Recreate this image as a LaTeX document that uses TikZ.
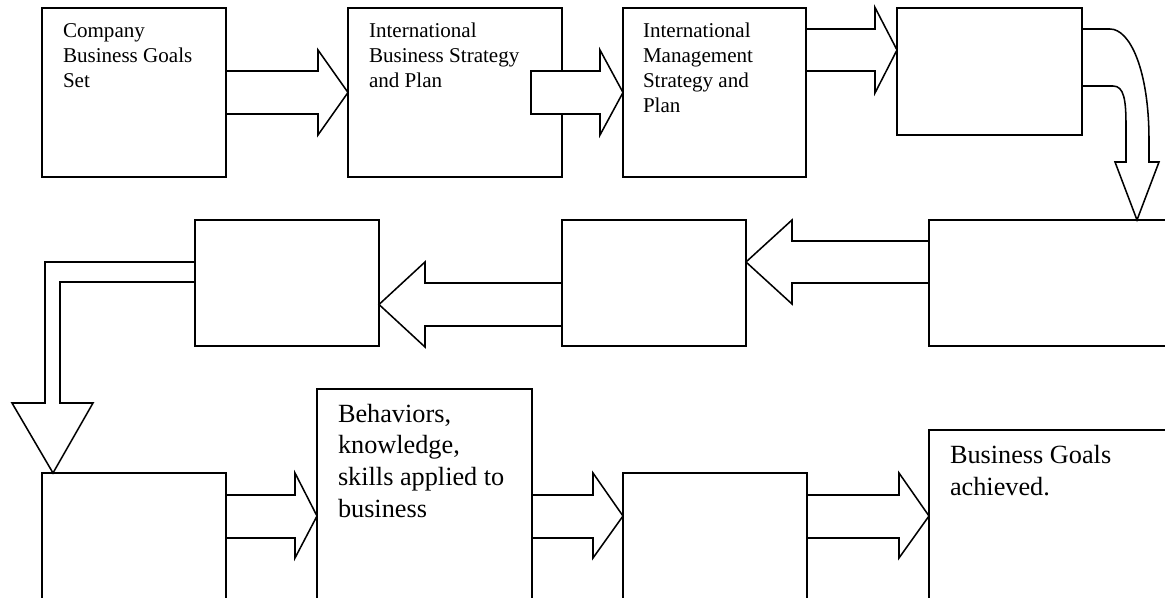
\documentclass[tikz,border=0pt]{standalone}
\usepackage{fontspec}
\setmainfont{Liberation Serif}
\tikzset{
  box/.style={draw, line width=1.15pt, fill=white, inner sep=0pt, outer sep=0pt, anchor=north west},
  wh/.style 2 args={minimum width=#1*0.75pt, minimum height=#2*0.75pt},
  barrow/.style={draw, line width=1.15pt, fill=white},
  lbl/.style={anchor=base west, inner sep=0pt, outer sep=0pt},
}
\newcommand{\smalltxt}[1]{{\fontsize{15.8}{18.75}\selectfont\begin{tabular}[t]{@{}l@{}}#1\end{tabular}}}
\newcommand{\bigtxt}[1]{{\fontsize{19.7}{23.7}\selectfont\begin{tabular}[t]{@{}l@{}}#1\end{tabular}}}
\begin{document}
\begin{tikzpicture}[x=0.75pt,y=-0.75pt]
\useasboundingbox (0,0) rectangle (1165,598);
\fill[white] (0,0) rectangle (1165,598);
\clip (0,0) rectangle (1165,598);
% boxes
\node[box, wh={184}{169}] (b1) at (42,8) {};
\node[box, wh={214}{169}] (b2) at (348,8) {};
\node[box, wh={183}{169}] (b3) at (623,8) {};
\node[box, wh={185}{127}] (b4) at (897,8) {};
\node[box, wh={246}{126}] (b5) at (929,220) {};
\node[box, wh={184}{126}] (b6) at (195,220) {};
\node[box, wh={184}{126}] (b7) at (562,220) {};
\node[box, wh={184}{140}] (b8) at (42,473) {};
\node[box, wh={215}{224}] (b9) at (317,389) {};
\node[box, wh={184}{140}] (b10) at (623,473) {};
\node[box, wh={246}{183}] (b11) at (929,430) {};
% texts
\node[lbl] (t1) at (63,37.7) {\smalltxt{Company\\Business Goals\\Set}};
\node[lbl] (t2) at (369,37.7) {\smalltxt{International\\Business Strategy\\and Plan}};
\node[lbl] (t3) at (643,37.7) {\smalltxt{International\\Management\\Strategy and\\Plan}};
\node[lbl] (t9) at (338,422.3) {\bigtxt{Behaviors,\\knowledge,\\skills applied to\\business}};
\node[lbl] (t11) at (950,464) {\bigtxt{Business Goals\\achieved.}};
% arrows row 1
\draw[barrow] (b1.east |- 0,71) -- (318,71) -- (318,50) -- (b2.west |- 0,92.5) -- (318,135) -- (318,114) -- (b1.east |- 0,114) -- cycle;
\draw[barrow] (531,71) -- (600,71) -- (600,50) -- (b3.west |- 0,92.5) -- (600,135) -- (600,114) -- (531,114) -- cycle;
\draw[barrow] (b3.east |- 0,29) -- (875,29) -- (875,7.5) -- (b4.west |- 0,50) -- (875,93) -- (875,71) -- (b3.east |- 0,71) -- cycle;
% curved arrow down
\draw[barrow] (b4.east |- 0,29) -- (1110,29) .. controls (1130,29) and (1149,70) .. (1149,140) -- (1149,162) -- (1159,162) -- (1137,0 |- b5.north) -- (1115,162) -- (1126,162) -- (1126,125) .. controls (1126,100) and (1124,86) .. (1113,86) -- (b4.east |- 0,86) -- cycle;
% arrows row 2
\draw[barrow] (b5.west |- 0,241) -- (792,241) -- (792,220) -- (b7.east |- 0,262) -- (792,304) -- (792,283) -- (b5.west |- 0,283) -- cycle;
\draw[barrow] (b7.west |- 0,283) -- (425,283) -- (425,262) -- (b6.east |- 0,304.5) -- (425,347) -- (425,326) -- (b7.west |- 0,326) -- cycle;
% bent arrow down
\draw[barrow] (b6.west |- 0,262) -- (45,262) -- (45,403) -- (12,403) -- (53,0 |- b8.north) -- (93,403) -- (60,403) -- (60,282) -- (b6.west |- 0,282) -- cycle;
% arrows row 3
\draw[barrow] (b8.east |- 0,495) -- (295,495) -- (295,473) -- (b9.west |- 0,516) -- (295,558) -- (295,538) -- (b8.east |- 0,538) -- cycle;
\draw[barrow] (b9.east |- 0,495) -- (593,495) -- (593,473) -- (b10.west |- 0,516) -- (593,558) -- (593,538) -- (b9.east |- 0,538) -- cycle;
\draw[barrow] (b10.east |- 0,495) -- (899,495) -- (899,473) -- (b11.west |- 0,516) -- (899,558) -- (899,538) -- (b10.east |- 0,538) -- cycle;
\end{tikzpicture}
\end{document}
